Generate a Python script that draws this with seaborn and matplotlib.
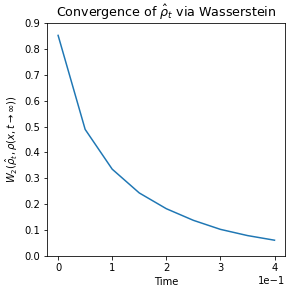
import numpy as np
import pandas as pd
import matplotlib
matplotlib.use("Agg")
import matplotlib.pyplot as plt
import seaborn as sns

# time steps and Wasserstein distance
time = [0.0, 0.05, 0.10, 0.15, 0.20, 0.25, 0.30, 0.35, 0.40]
w2 = [0.853, 0.489, 0.335, 0.243, 0.182, 0.137, 0.102, 0.078, 0.060]

df = pd.DataFrame({"Time": time, "W2": w2})

fig = plt.figure(figsize=(291 / 72, 295 / 72), dpi=72)
ax = fig.add_axes([0.1625, 0.1332, 0.818, 0.788])

sns.lineplot(data=df, x="Time", y="W2", ax=ax, color="#1f77b4", linewidth=1.5)

ax.set_ylim(0.0, 0.9)
ax.set_yticks(np.arange(0, 0.91, 0.1))
ax.set_xlim(-0.02, 0.42)
ax.set_xticks([0.0, 0.1, 0.2, 0.3, 0.4])
ax.ticklabel_format(axis="x", style="sci", scilimits=(0, 0))

ax.set_title(r"Convergence of $\hat{\rho}_t$ via Wasserstein", fontsize=12.6)
ax.set_xlabel("Time")
ax.set_ylabel(r"$W_2(\hat{\rho}_t, \rho(x, t\rightarrow\infty))$")

fig.savefig("out.png", dpi=72)
